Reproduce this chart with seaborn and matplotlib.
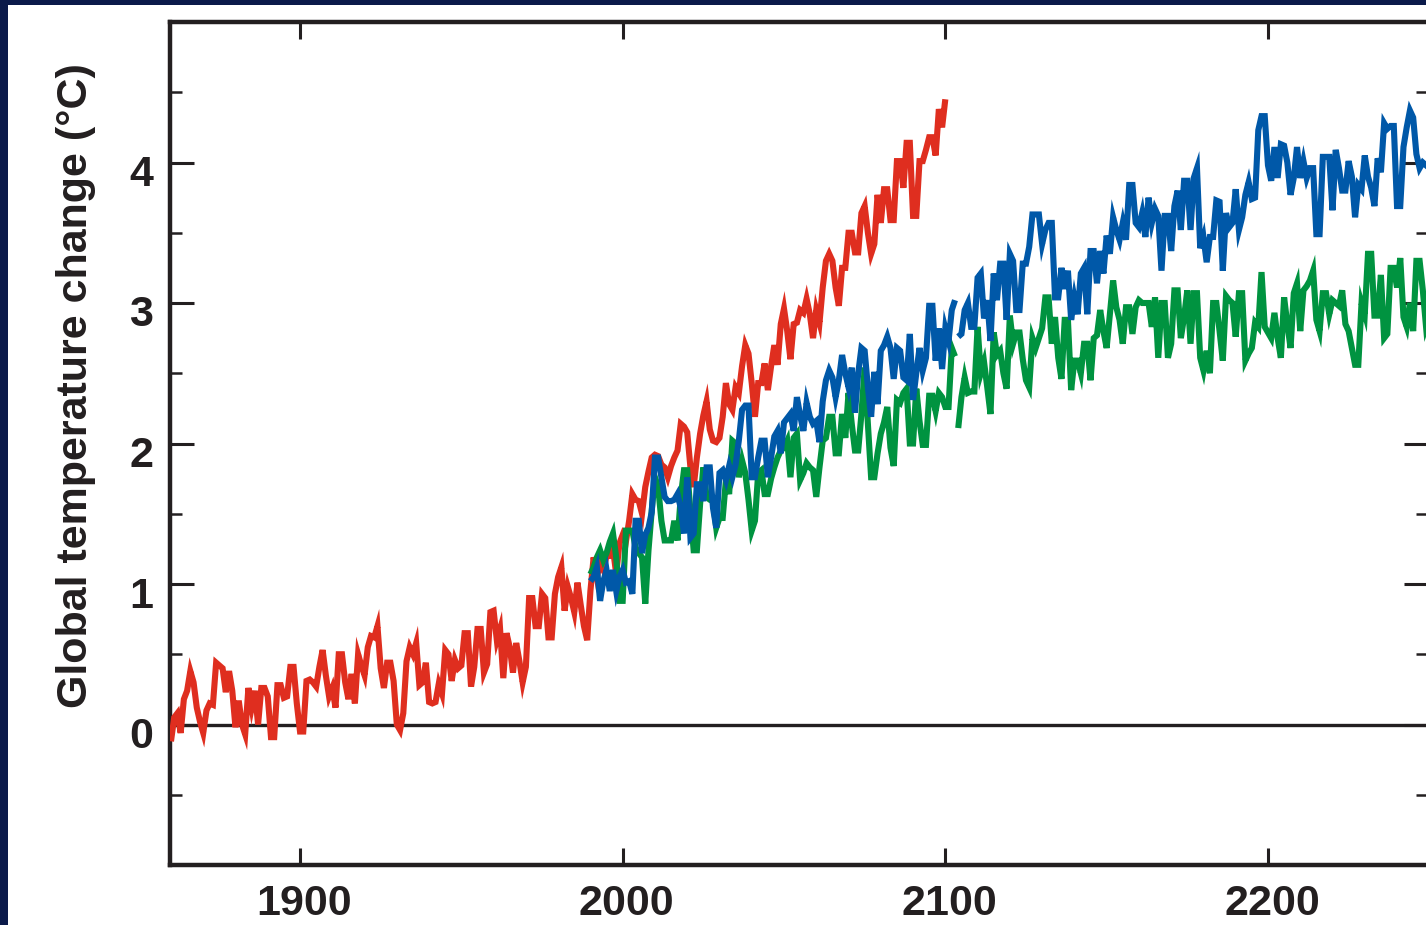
import numpy as np
import pandas as pd
import matplotlib
matplotlib.use("Agg")
import matplotlib.pyplot as plt
import matplotlib.transforms as mtransforms
import seaborn as sns
from matplotlib.patches import Rectangle
from matplotlib.ticker import FixedLocator, MultipleLocator

# ---------------- data ----------------
red_start = 1860
red_values = [
    -0.12, 0.05, 0.08, -0.06, 0.18, 0.24, 0.38, 0.30, 0.12, 0.02,
    -0.06, 0.10, 0.15, 0.14, 0.44, 0.42, 0.40, 0.23, 0.38, 0.24,
    -0.02, 0.17, 0.00, -0.07, 0.26, 0.12, 0.24, 0.00, 0.26, 0.26,
    0.20, -0.09, -0.09, 0.28, 0.28, 0.19, 0.20, 0.41, 0.41, 0.15,
    -0.05, -0.05, 0.31, 0.32, 0.30, 0.27, 0.41, 0.53, 0.35, 0.20,
    0.26, 0.12, 0.50, 0.50, 0.30, 0.18, 0.36, 0.15, 0.50, 0.42,
    0.35, 0.55, 0.63, 0.62, 0.70, 0.40, 0.26, 0.44, 0.44, 0.31,
    0.00, -0.04, 0.08, 0.45, 0.55, 0.50, 0.58, 0.28, 0.30, 0.44,
    0.16, 0.15, 0.16, 0.29, 0.22, 0.53, 0.50, 0.31, 0.46, 0.40,
    0.42, 0.65, 0.65, 0.27, 0.41, 0.68, 0.68, 0.37, 0.43, 0.80,
    0.81, 0.60, 0.68, 0.33, 0.65, 0.55, 0.37, 0.58, 0.45, 0.30,
    0.41, 0.90, 0.90, 0.70, 0.70, 0.93, 0.90, 0.62, 0.62, 0.93,
    1.05, 1.12, 0.81, 0.98, 0.90, 0.80, 1.01, 0.85, 0.70, 0.60,
    0.95, 1.19, 1.05, 1.15, 1.10, 1.20, 1.20, 1.25, 1.07, 1.29,
    1.35, 1.30, 1.45, 1.64, 1.60, 1.59, 1.50, 1.69, 1.80, 1.90,
    1.92, 1.91, 1.85, 1.83, 1.76, 1.84, 1.90, 1.95, 2.14, 2.12,
    2.08, 1.83, 1.69, 1.90, 2.07, 2.20, 2.30, 2.10, 2.02, 2.01,
    2.04, 2.19, 2.43, 2.28, 2.24, 2.40, 2.36, 2.55, 2.70, 2.64,
    2.43, 2.19, 2.43, 2.43, 2.57, 2.38, 2.55, 2.70, 2.56, 2.85,
    2.96, 2.80, 2.60, 2.85, 2.86, 2.95, 2.93, 3.03, 2.92, 2.75,
    2.95, 2.86, 3.11, 3.30, 3.35, 3.30, 3.11, 2.98, 3.25, 3.25,
    3.50, 3.50, 3.36, 3.36, 3.64, 3.69, 3.50, 3.35, 3.42, 3.77,
    3.57, 3.81, 3.81, 3.59, 3.59, 4.01, 4.01, 3.82, 4.14, 4.14,
    3.62, 3.62, 4.01, 4.01, 4.09, 4.18, 4.18, 4.05, 4.38, 4.25,
    4.45,
]

# scenario runs: first part 1990-2103, second part 2104-2250
run_a_start = 1990
run_b_start = 2104

blue_values_a = [
    1.02, 1.05, 1.12, 0.88, 1.02, 1.10, 0.95, 1.10, 0.95, 1.05,
    1.10, 1.01, 1.02, 0.93, 1.45, 1.45, 1.22, 1.35, 1.40, 1.51,
    1.90, 1.90, 1.76, 1.62, 1.59, 1.59, 1.60, 1.64, 1.54, 1.36,
    1.76, 1.33, 1.36, 1.71, 1.71, 1.59, 1.83, 1.83, 1.54, 1.40,
    1.79, 1.81, 1.74, 1.84, 1.76, 1.85, 2.02, 2.24, 2.27, 2.27,
    1.76, 1.76, 1.90, 2.02, 2.02, 1.76, 1.90, 2.05, 2.09, 1.93,
    2.15, 2.18, 2.21, 2.09, 2.33, 2.20, 2.09, 2.29, 2.19, 2.14,
    2.16, 2.01, 2.30, 2.45, 2.52, 2.47, 2.33, 2.45, 2.63, 2.50,
    2.40, 2.54, 2.22, 2.50, 2.68, 2.66, 2.40, 2.19, 2.51, 2.28,
    2.66, 2.70, 2.76, 2.68, 2.46, 2.68, 2.66, 2.47, 2.45, 2.78,
    2.31, 2.50, 2.68, 2.52, 2.61, 2.98, 2.98, 2.59, 2.82, 2.53,
    2.82, 2.73, 2.95, 3.02,
]
blue_values_b = [
    2.76, 2.78, 2.95, 3.00, 2.83,
    2.83, 3.18, 3.21, 2.89, 3.02, 2.73, 3.21, 3.02, 3.28, 3.28,
    2.88, 3.35, 3.30, 2.95, 2.95, 3.28, 3.28, 3.40, 3.63, 3.63,
    3.63, 3.42, 3.52, 3.57, 3.57, 3.04, 3.04, 3.25, 3.10, 3.23,
    2.88, 3.04, 2.92, 3.21, 3.25, 2.92, 3.37, 3.37, 3.14, 3.37,
    3.21, 3.48, 3.35, 3.61, 3.52, 3.45, 3.57, 3.45, 3.84, 3.84,
    3.57, 3.54, 3.64, 3.47, 3.75, 3.57, 3.67, 3.62, 3.23, 3.62,
    3.62, 3.37, 3.69, 3.80, 3.52, 3.87, 3.87, 3.52, 3.89, 3.96,
    3.39, 3.47, 3.29, 3.47, 3.47, 3.73, 3.72, 3.23, 3.64, 3.54,
    3.57, 3.81, 3.52, 3.61, 3.77, 3.86, 3.74, 3.75, 4.23, 4.33,
    4.33, 3.98, 3.87, 4.11, 3.89, 4.13, 4.12, 4.00, 3.77, 3.89,
    4.11, 3.89, 4.01, 3.89, 3.96, 3.96, 3.49, 3.49, 4.04, 4.04,
    4.04, 3.66, 4.09, 3.96, 3.80, 3.80, 4.01, 3.90, 3.61, 3.84,
    3.81, 4.05, 3.90, 3.82, 3.69, 4.03, 3.93, 4.28, 4.24, 4.26,
    4.26, 3.69, 3.69, 4.11, 4.25, 4.37, 4.32, 4.06, 3.96, 4.00,
    3.98, 4.00,
]

green_values_a = [
    1.07, 1.12, 1.19, 1.24, 1.17, 1.22, 1.30, 1.36, 1.19, 0.88,
    0.88, 1.38, 1.38, 1.38, 1.26, 1.22, 1.19, 0.86, 1.24, 1.52,
    1.76, 1.69, 1.45, 1.31, 1.31, 1.31, 1.45, 1.31, 1.62, 1.81,
    1.81, 1.52, 1.24, 1.24, 1.57, 1.83, 1.62, 1.60, 1.59, 1.40,
    1.47, 1.47, 1.74, 1.64, 2.02, 2.00, 1.76, 1.88, 1.79, 1.60,
    1.38, 1.45, 1.79, 1.81, 1.64, 1.64, 1.75, 1.83, 1.90, 1.95,
    1.97, 2.02, 1.76, 2.04, 2.07, 1.74, 1.79, 1.86, 1.83, 1.81,
    1.62, 1.83, 2.02, 2.04, 2.19, 2.19, 1.93, 1.93, 2.21, 2.04,
    2.36, 2.14, 1.95, 1.95, 2.21, 2.54, 2.14, 1.76, 1.76, 1.93,
    2.07, 2.15, 2.26, 1.97, 1.84, 2.31, 2.29, 2.36, 2.39, 2.00,
    2.00, 2.39, 2.16, 1.99, 1.99, 2.34, 2.34, 2.23, 2.36, 2.33,
    2.26, 2.26, 2.68, 2.62,
]
green_values_b = [
    2.11, 2.33, 2.47, 2.36, 2.37,
    2.37, 2.83, 2.50, 2.58, 2.40, 2.21, 2.79, 2.63, 2.66, 2.50,
    2.39, 2.91, 2.71, 2.79, 2.79, 2.60, 2.45, 2.40, 2.75, 2.68,
    2.75, 2.82, 3.04, 3.04, 2.71, 2.90, 2.61, 2.46, 2.88, 2.88,
    2.38, 2.59, 2.59, 2.50, 2.71, 2.71, 2.45, 2.75, 2.77, 2.95,
    2.80, 2.68, 2.92, 3.16, 2.97, 2.88, 2.71, 2.97, 2.97, 2.78,
    2.97, 3.02, 3.00, 3.00, 3.00, 2.83, 3.04, 2.61, 3.00, 3.00,
    2.61, 2.71, 3.09, 3.09, 2.75, 2.90, 3.09, 2.71, 3.07, 3.07,
    2.61, 2.52, 2.66, 2.50, 3.00, 3.00, 2.80, 2.59, 3.05, 3.02,
    3.00, 2.76, 3.07, 3.07, 2.59, 2.64, 2.68, 2.86, 2.83, 3.22,
    2.83, 2.79, 2.75, 2.93, 2.75, 2.61, 3.04, 2.85, 2.68, 3.07,
    3.14, 2.80, 3.09, 3.12, 3.16, 3.23, 2.88, 2.80, 3.07, 3.07,
    2.92, 3.02, 3.00, 2.98, 3.09, 2.85, 2.80, 2.68, 2.56, 2.56,
    3.00, 2.92, 3.35, 3.35, 2.91, 2.91, 3.20, 2.75, 2.78, 3.25,
    3.25, 3.11, 3.32, 2.90, 2.83, 3.00, 2.80, 3.30, 3.30, 3.09,
    2.83, 2.90,
]

x_ticks = [1900, 2000, 2100, 2200]
y_ticks = [0, 1, 2, 3, 4]
y_label = "Global temperature change (°C)"

# ---------------- style ----------------
RED = "#df2e1f"
BLUE = "#0058a8"
GREEN = "#009340"
INK = "#231f20"
NAVY = "#0b1a4a"

sns.set_style("ticks")
plt.rcParams["font.family"] = ["Liberation Sans", "DejaVu Sans"]
plt.rcParams["font.weight"] = "bold"

W, H = 1426, 925
fig = plt.figure(figsize=(W / 100, H / 100), dpi=100)
fig.patch.set_facecolor(NAVY)
fig.patches.append(Rectangle((8 / W, 0), 1, 1 - 5 / H, transform=fig.transFigure,
                             facecolor="white", edgecolor="none", zorder=-10))

ax = fig.add_axes([170 / W, 60 / H, 1258 / W, 843 / H])
ax.set_zorder(5)
ax.set_facecolor("white")


def frame(start, values):
    return pd.DataFrame({"year": np.arange(start, start + len(values)),
                         "temp": values})


ax.axhline(0, color=INK, lw=2.4, zorder=1)

series = [
    (red_start, red_values, RED),
    (run_a_start, green_values_a, GREEN),
    (run_b_start, green_values_b, GREEN),
    (run_a_start, blue_values_a, BLUE),
    (run_b_start, blue_values_b, BLUE),
]
for start, vals, col in series:
    sns.lineplot(data=frame(start, vals), x="year", y="temp", ax=ax, color=col,
                 lw=4.4, estimator=None, sort=False, errorbar=None, zorder=3)

for ln in ax.lines:
    ln.set_solid_joinstyle("miter")
    ln.set_solid_capstyle("butt")

ax.set_xlim(1859.7, 2249.6)
ax.set_ylim(-1, 5)
ax.xaxis.set_major_locator(FixedLocator(x_ticks))
ax.yaxis.set_major_locator(FixedLocator(y_ticks))
ax.yaxis.set_minor_locator(MultipleLocator(0.5))
ax.set_xlabel("")
ax.set_ylabel("")

for sp in ax.spines.values():
    sp.set_visible(True)
    sp.set_linewidth(3.2)
    sp.set_color(INK)

ax.tick_params(axis="x", which="major", direction="in", length=12, width=2.2,
               top=True, bottom=True, pad=14, labelsize=31, colors=INK)
ax.tick_params(axis="y", which="major", direction="in", length=17, width=2.2,
               left=True, right=True, pad=12, labelsize=31, colors=INK)
ax.tick_params(axis="y", which="minor", direction="in", length=8.5, width=1.8,
               left=True, right=True, colors=INK)

shift_down = mtransforms.ScaledTranslation(0, -8 / 100, fig.dpi_scale_trans)
for tick in ax.yaxis.get_major_ticks():
    tick.label1.set_transform(tick.label1.get_transform() + shift_down)
shift_right = mtransforms.ScaledTranslation(4 / 100, 0, fig.dpi_scale_trans)
for tick in ax.xaxis.get_major_ticks():
    tick.label1.set_transform(tick.label1.get_transform() + shift_right)
for lbl in ax.get_xticklabels() + ax.get_yticklabels():
    lbl.set_fontweight("bold")

fig.text(76 / W, 1 - 386 / H, y_label, rotation=90, ha="center", va="center",
         fontsize=31, fontweight="bold", color=INK)

fig.savefig("out.png", dpi=100, facecolor=fig.get_facecolor())
